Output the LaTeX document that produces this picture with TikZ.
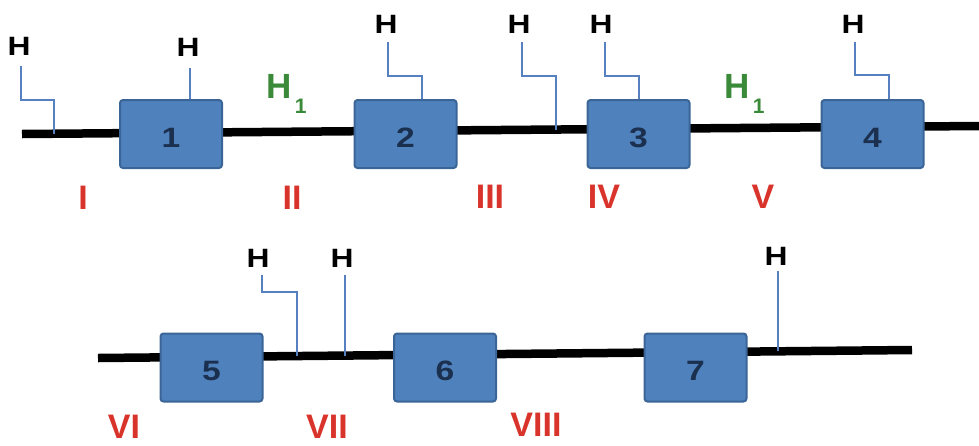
\documentclass[tikz,border=0pt]{standalone}
\usepackage{fontspec}
\setmainfont{Liberation Sans}
\newfontfamily\widefont[FakeStretch=1.2]{Liberation Sans}
\usetikzlibrary{calc}

\definecolor{exonfill}{HTML}{4F81BD}
\definecolor{exonedge}{HTML}{3A6596}
\definecolor{exontext}{HTML}{1B2F4E}
\definecolor{leadblue}{HTML}{5680C0}
\definecolor{intronred}{HTML}{D9342B}
\definecolor{hgreen}{HTML}{3A8A3A}

\tikzset{
  strand/.style={line width=8.5pt, black},
  exon/.style={draw=exonedge, fill=exonfill, line width=2pt, rounded corners=3pt,
    minimum width=102pt, minimum height=68pt, inner sep=0pt},
  exonnum/.style={text=exontext, font=\widefont\bfseries\fontsize{28}{28}\selectfont, inner sep=0pt},
  hmark/.style={text=black, font=\widefont\bfseries\fontsize{26.5}{26.5}\selectfont, inner sep=0pt},
  hone/.style={text=hgreen, font=\bfseries\fontsize{35}{35}\selectfont, inner sep=0pt, anchor=base west},
  roman/.style={text=intronred, font=\bfseries\fontsize{34}{34}\selectfont, inner sep=0pt},
  lead/.style={draw=leadblue, line width=1.8pt},
}

\newcommand{\honetext}{H\kern3pt\raisebox{-15pt}{\fontsize{21}{21}\selectfont 1}}

\begin{document}
\begin{tikzpicture}[x=1pt, y=-1pt]
  \useasboundingbox (0,0) rectangle (979,445);

  % ---- strands ----
  \coordinate (s1a) at (22,134);
  \coordinate (s1b) at (979,126);
  \coordinate (s2a) at (98,358);
  \coordinate (s2b) at (912,350);
  \draw[strand] (s1a) -- (s1b);
  \draw[strand] (s2a) -- (s2b);

  % ---- H labels ----
  \node[hmark] (hA) at (19,46)  {H};
  \node[hmark] (hB) at (188,47) {H};
  \node[hmark] (hC) at (386,24) {H};
  \node[hmark] (hD) at (519,24) {H};
  \node[hmark] (hE) at (601,24) {H};
  \node[hmark] (hF) at (853,24) {H};
  \node[hmark] (hG) at (258,258) {H};
  \node[hmark] (hH) at (342,258) {H};
  \node[hmark] (hI) at (776,256) {H};

  % ---- lead feet (on strands / exon tops) ----
  \coordinate (fA) at (54,133.7);
  \coordinate (fB) at (190,100);
  \coordinate (fC) at (422,100);
  \coordinate (fD) at (556,129.5);
  \coordinate (fE) at (639,100);
  \coordinate (fF) at (889,100);
  \coordinate (fG) at (297,356);
  \coordinate (fH) at (345,355.6);
  \coordinate (fI) at (778,351.3);

  % ---- leads ----
  \draw[lead] ([shift={(2,11)}]hA.south) -- ++(0,34) -| (fA);
  \draw[lead] ([shift={(2,12)}]hB.south) -- (fB);
  \draw[lead] ([shift={(2,9)}]hC.south) -- ++(0,34) -| (fC);
  \draw[lead] ([shift={(3,9)}]hD.south) -- ++(0,34) -| (fD);
  \draw[lead] ([shift={(4,9)}]hE.south) -- ++(0,34) -| (fE);
  \draw[lead] ([shift={(2,9)}]hF.south) -- ++(0,33) -| (fF);
  \draw[lead] ([shift={(4,8)}]hG.south) -- ++(0,17) -| (fG);
  \draw[lead] ([shift={(3,8)}]hH.south) -- (fH);
  \draw[lead] ([shift={(2,6)}]hI.south) -- (fI);

  % ---- exons ----
  \node[exon] (e1) at (171,134)   {};
  \node[exon] (e2) at (405.5,134) {};
  \node[exon] (e3) at (638.5,134) {};
  \node[exon] (e4) at (872.5,134) {};
  \node[exon] (e5) at (211.5,367.5) {};
  \node[exon] (e6) at (445,367.5)   {};
  \node[exon] (e7) at (695.5,367.5) {};
  \foreach \e/\n in {e1/1,e2/2,e3/3,e4/4,e5/5,e6/6,e7/7}
    \node[exonnum] (n\e) at ([yshift=-3.5pt]\e.center) {\n};

  % ---- H1 labels ----
  \node[hone] (g1) at (266.4,98) {\honetext};
  \node[hone] (g2) at (724.4,98) {\honetext};

  % ---- intron numerals ----
  \node[roman] (r1) at (83,198)   {I};
  \node[roman] (r2) at (292,198)  {II};
  \node[roman] (r3) at (490,197)  {III};
  \node[roman] (r4) at (604,197)  {IV};
  \node[roman] (r5) at (763,197)  {V};
  \node[roman] (r6) at (124,427)  {VI};
  \node[roman] (r7) at (327,427)  {VII};
  \node[roman] (r8) at (536,425)  {VIII};
\end{tikzpicture}
\end{document}
